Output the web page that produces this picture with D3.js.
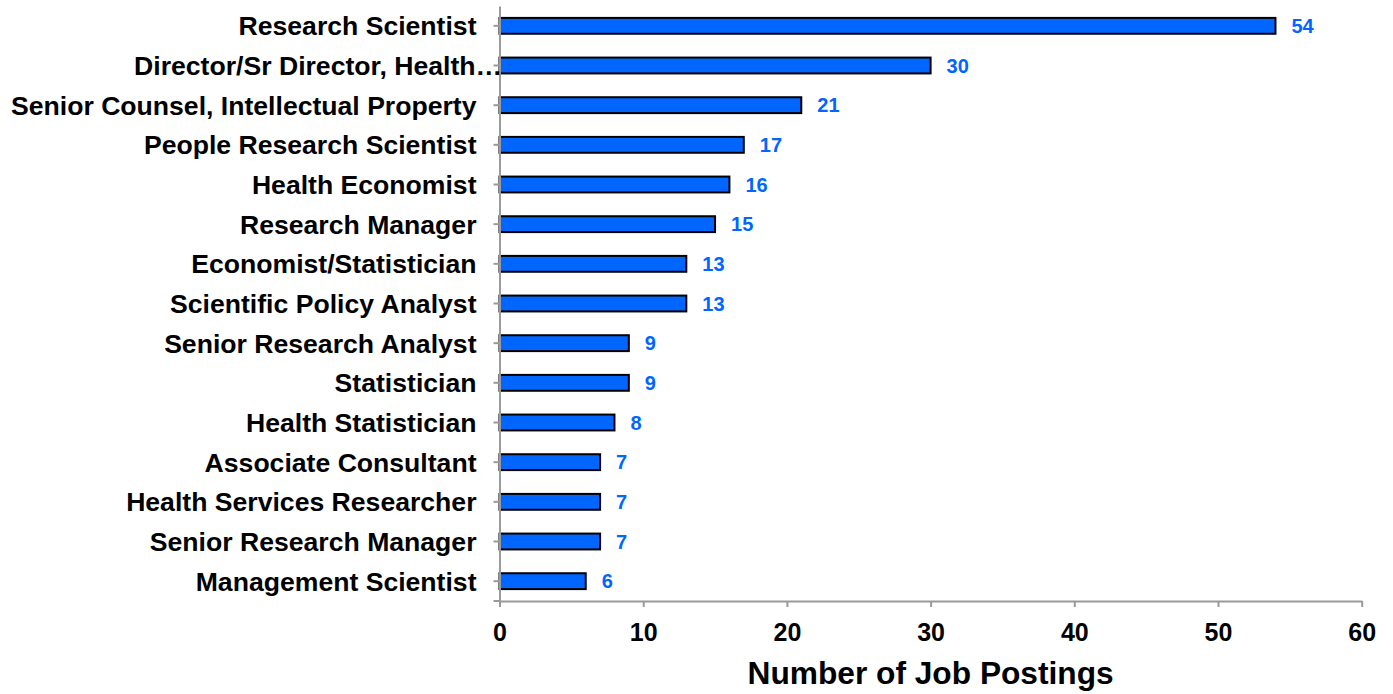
<!DOCTYPE html>
<html>
<head>
<meta charset="utf-8">
<script src="https://cdn.jsdelivr.net/npm/d3@7"></script>
<style>
  body { margin: 0; background: #fff; }
  text { font-family: "Liberation Sans", Arial, sans-serif; font-weight: bold; }
</style>
</head>
<body>
<script>
var width = 1393,
    height = 694;

var categories = [
  'Research Scientist',
  'Director/Sr Director, Health\u2026',
  'Senior Counsel, Intellectual Property',
  'People Research Scientist',
  'Health Economist',
  'Research Manager',
  'Economist/Statistician',
  'Scientific Policy Analyst',
  'Senior Research Analyst',
  'Statistician',
  'Health Statistician',
  'Associate Consultant',
  'Health Services Researcher',
  'Senior Research Manager',
  'Management Scientist'
];
var postings = [54, 30, 21, 17, 16, 15, 13, 13, 9, 9, 8, 7, 7, 7, 6];
var xTicks = [0, 10, 20, 30, 40, 50, 60];
var xTitle = 'Number of Job Postings';

var data = categories.map(function(c, i) { return {name: c, value: postings[i]}; });

var svg = d3.select('body')
  .append('svg')
  .attr('width', width)
  .attr('height', height);

var x = d3.scaleLinear()
  .domain([0, 60])
  .range([499.5, 1361.7]);

var y = d3.scaleBand()
  .domain(categories)
  .range([6, 601])
  .paddingInner(0.6)
  .paddingOuter(0.3);

// bars
svg.append('g')
  .selectAll('rect')
  .data(data)
  .enter()
  .append('rect')
  .attr('x', x(0))
  .attr('y', function(d) { return y(d.name); })
  .attr('width', function(d) { return x(d.value) - x(0); })
  .attr('height', y.bandwidth())
  .attr('fill', '#0066ff')
  .attr('stroke', '#000')
  .attr('stroke-width', 2);

// value labels
svg.append('g')
  .selectAll('text')
  .data(data)
  .enter()
  .append('text')
  .attr('x', function(d) { return x(d.value) + 16; })
  .attr('y', function(d) { return y(d.name) + y.bandwidth() / 2; })
  .attr('dy', '0.36em')
  .attr('font-size', 20)
  .attr('fill', '#0066ff')
  .text(function(d) { return d.value; });

// y axis
var yAxis = svg.append('g')
  .attr('transform', 'translate(' + x(0) + ',0)')
  .call(d3.axisLeft(y).tickSize(6).tickSizeOuter(0).tickPadding(17));

yAxis.selectAll('text')
  .attr('font-size', 26.6)
  .attr('fill', '#000')
  .attr('dy', '0.36em');

// truncated label: the ellipsis hangs past the label edge
yAxis.selectAll('text')
  .filter(function(d) { return d.slice(-1) === '\u2026'; })
  .attr('dx', function() {
    var t = d3.select(this).text();
    var full = this.getComputedTextLength();
    d3.select(this).text(t.slice(0, -1));
    var cut = this.getComputedTextLength();
    d3.select(this).text(t);
    return full - cut - 1;
  });

// x axis
var xAxis = svg.append('g')
  .attr('transform', 'translate(0,' + y.range()[1] + ')')
  .call(d3.axisBottom(x).tickValues(xTicks).tickSize(6).tickSizeOuter(0).tickPadding(16));

xAxis.selectAll('text')
  .attr('font-size', 25)
  .attr('fill', '#000');

svg.selectAll('.domain, .tick line')
  .attr('stroke', '#9a9a9a')
  .attr('stroke-width', 2);

// little outer tick at the corner, as in the original
svg.append('line')
  .attr('x1', x(0) - 6)
  .attr('x2', x(0))
  .attr('y1', y.range()[1])
  .attr('y2', y.range()[1])
  .attr('stroke', '#9a9a9a')
  .attr('stroke-width', 2);

svg.append('text')
  .attr('x', (x.range()[0] + x.range()[1]) / 2)
  .attr('y', 684)
  .attr('text-anchor', 'middle')
  .attr('font-size', 31.7)
  .attr('fill', '#000')
  .text(xTitle);
</script>
</body>
</html>
